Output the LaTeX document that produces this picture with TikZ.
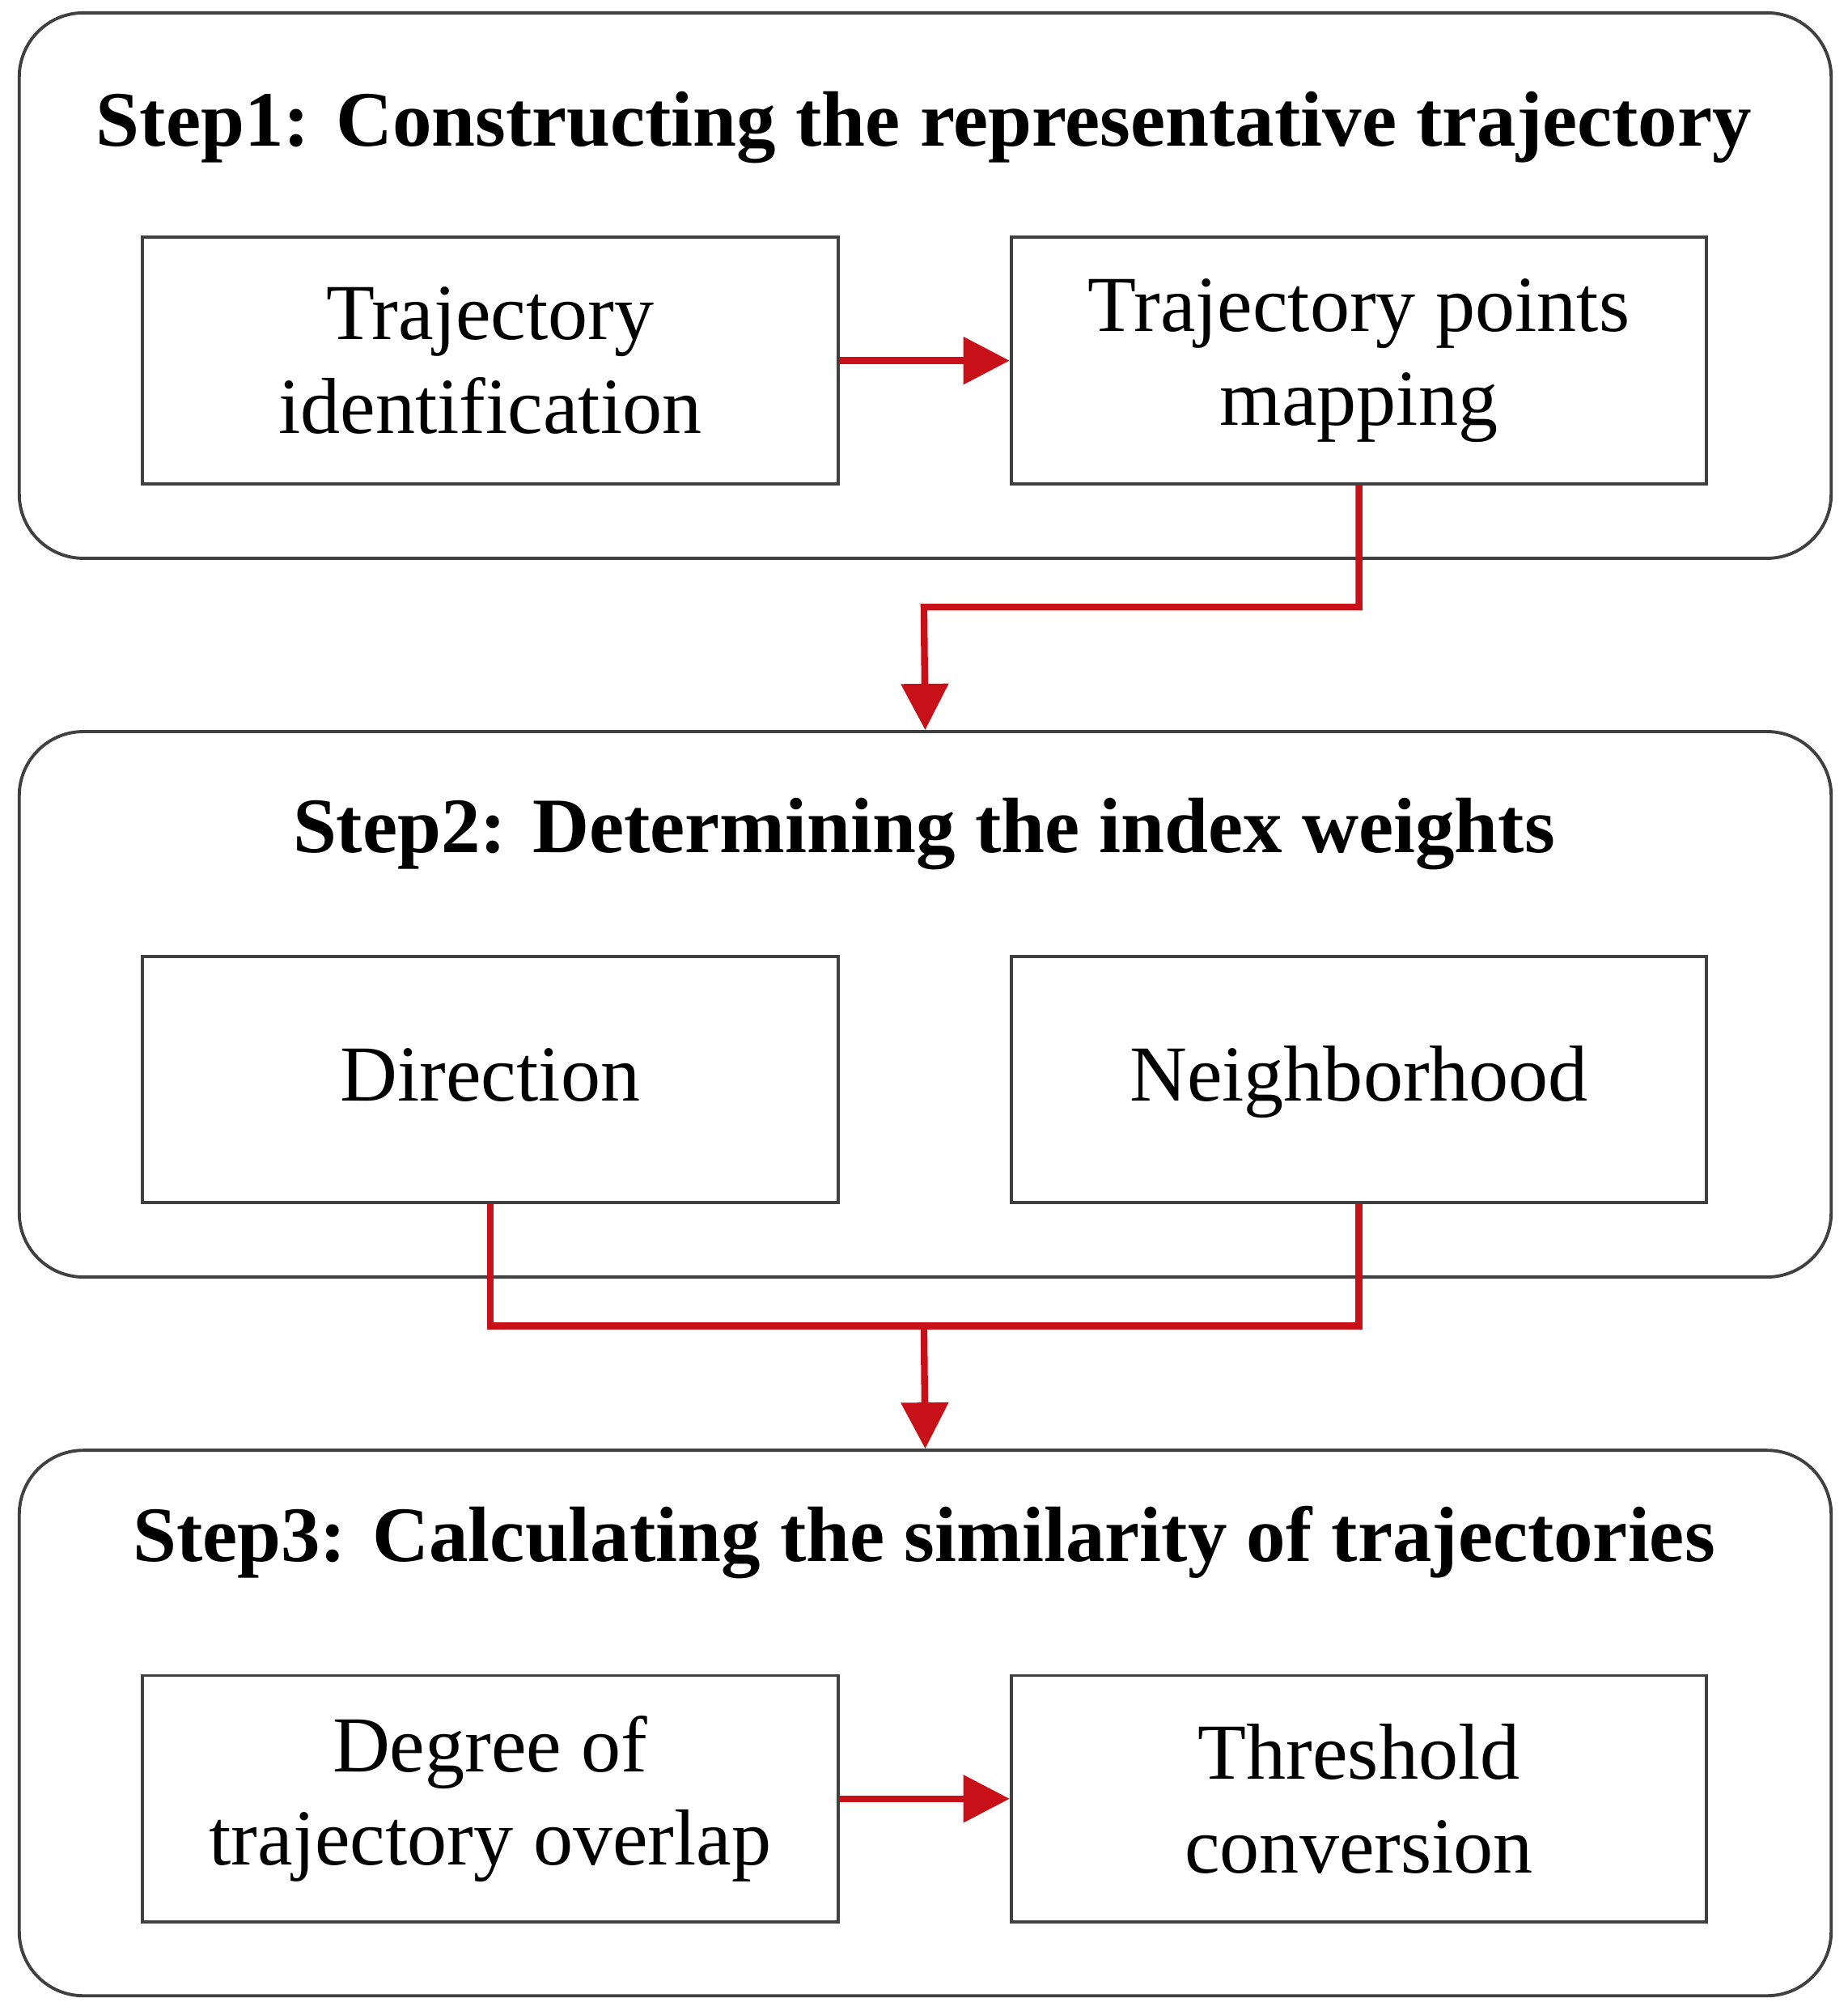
\documentclass[tikz,border=0pt]{standalone}
\usepackage{fontspec}
\setmainfont{Liberation Serif}
\usetikzlibrary{arrows.meta}
\definecolor{flowred}{RGB}{200,16,24}

\begin{document}
\begin{tikzpicture}[x=1cm,y=1cm,
  stepbox/.style={draw=black!75,line width=0.7pt,rounded corners=0.5cm,minimum width=14.12cm,minimum height=4.25cm},
  title/.style={font=\fontsize{17.4}{21}\selectfont\bfseries,text height=0.45cm,text depth=0.12cm},
  task/.style={draw=black!75,line width=0.7pt,minimum width=5.42cm,minimum height=1.92cm,align=center,font=\fontsize{17.6}{20.7}\selectfont},
  single/.style={task,text height=0.45cm,text depth=0.12cm},
  flow/.style={flowred,line width=1.5pt,-{Triangle[length=0.36cm,width=0.36cm]}},
  link/.style={flowred,line width=1.5pt}]

      \useasboundingbox (0,0) rectangle (14.40,-15.70);

      \node[stepbox]         (step1) at (7.21, -2.225)  {};
      \node[stepbox]         (step2) at (7.21, -7.825)  {};
      \node[stepbox]         (step3) at (7.21, -13.425) {};

      \node[title]           (t1) at (7.20, -0.97)  {Step1: Constructing the representative trajectory};
      \node[title]           (t2) at (7.20, -6.48)  {Step2: Determining the index weights};
      \node[title]           (t3) at (7.20, -12.00) {Step3: Calculating the similarity of trajectories};

      \node[task]            (ident) at (3.82, -2.81)  {Trajectory\\identification};
      \node[task]            (map)   at (10.59, -2.81) {Trajectory points\\mapping};
      \node[single]          (dir)   at (3.82, -8.41)  {Direction};
      \node[single]          (neigh) at (10.59, -8.41) {Neighborhood};
      \node[task]            (over)  at (3.82, -14.015) {Degree of\\trajectory overlap};
      \node[task]            (thr)   at (10.59, -14.015) {Threshold\\conversion};

      \coordinate            (j1) at (7.20, -4.73);
      \coordinate            (j2) at (7.20, -10.33);

      \draw[flow] (ident) -- (map);
      \draw[flow] (map.south) |- (j1) -- (step2.north);
      \draw[link] (dir.south) |- (j2) -| (neigh.south);
      \draw[flow] (j2) -- (step3.north);
      \draw[flow] (over) -- (thr);
    \end{tikzpicture}
\end{document}
